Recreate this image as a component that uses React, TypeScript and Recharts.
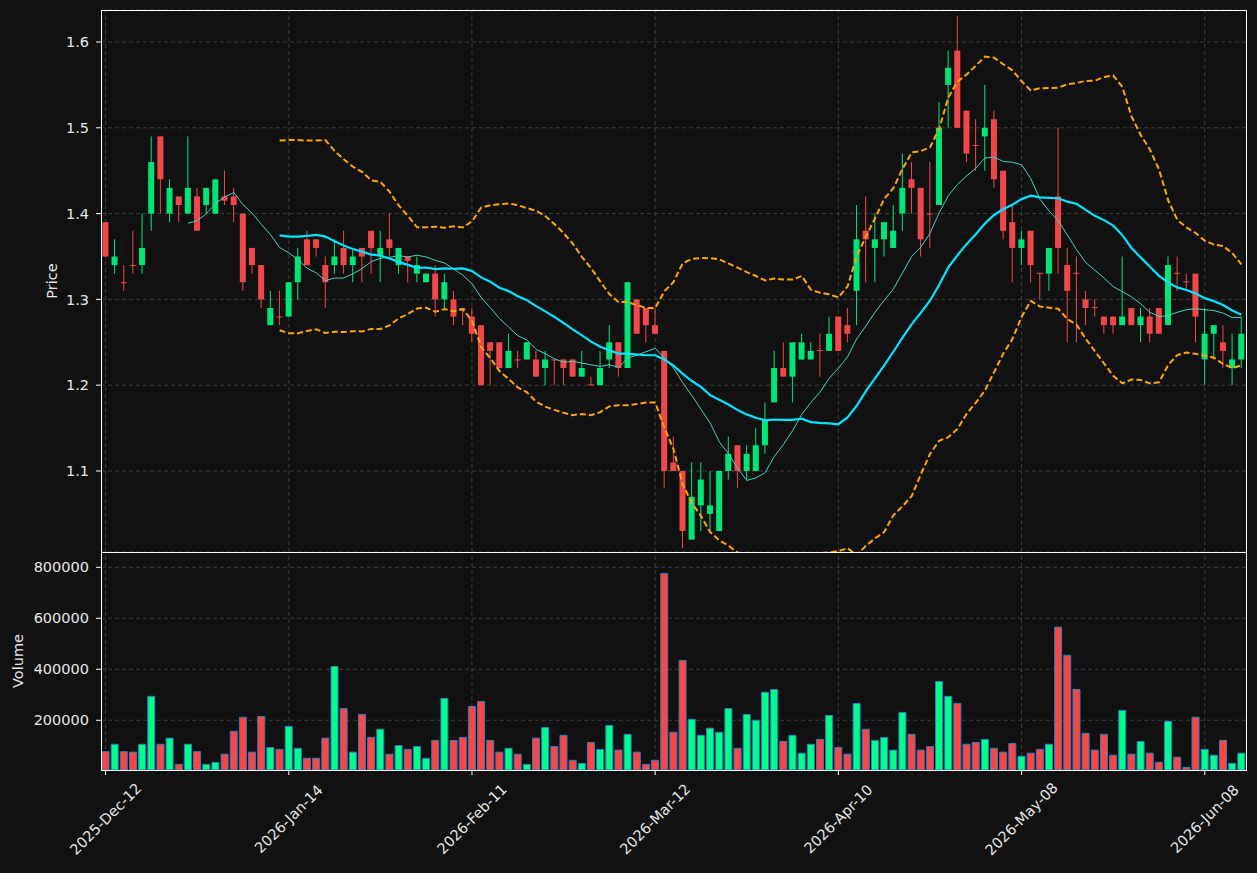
import React from 'react';
import { ComposedChart, Bar, Line, XAxis, YAxis, CartesianGrid, ReferenceLine, Cell, Label } from 'recharts';

const tickIndex = [0, 20, 40, 60, 80, 100, 120];
const tickLabels = ['2025-Dec-12', '2026-Jan-14', '2026-Feb-11', '2026-Mar-12', '2026-Apr-10', '2026-May-08', '2026-Jun-08'];
const priceTicks = [1.1, 1.2, 1.3, 1.4, 1.5, 1.6];
const volumeTicks = [200000, 400000, 600000, 800000];

const opens = [
  1.39, 1.34, 1.32, 1.34, 1.34, 1.40, 1.49, 1.40, 1.42, 1.40,
  1.42, 1.41, 1.40, 1.42, 1.42, 1.40, 1.36, 1.34, 1.27, 1.28,
  1.28, 1.32, 1.37, 1.37, 1.34, 1.34, 1.36, 1.34, 1.36, 1.38,
  1.35, 1.37, 1.34, 1.35, 1.33, 1.32, 1.33, 1.30, 1.30, 1.29,
  1.28, 1.27, 1.25, 1.25, 1.22, 1.23, 1.23, 1.23, 1.22, 1.23,
  1.23, 1.23, 1.21, 1.201, 1.20, 1.23, 1.25, 1.22, 1.30, 1.29,
  1.27, 1.24, 1.11, 1.10, 1.02, 1.06, 1.05, 1.03, 1.10, 1.13,
  1.10, 1.10, 1.13, 1.18, 1.22, 1.21, 1.23, 1.23, 1.241, 1.24,
  1.28, 1.27, 1.31, 1.38, 1.36, 1.37, 1.36, 1.40, 1.44, 1.43,
  1.40, 1.41, 1.55, 1.59, 1.52, 1.48, 1.49, 1.51, 1.45, 1.39,
  1.36, 1.38, 1.331, 1.33, 1.42, 1.34, 1.331, 1.30, 1.291, 1.28,
  1.28, 1.27, 1.29, 1.27, 1.28, 1.29, 1.27, 1.331, 1.321, 1.33,
  1.23, 1.26, 1.25, 1.22, 1.23,
];
const highs = [
  1.39, 1.37, 1.34, 1.38, 1.40, 1.49, 1.49, 1.44, 1.42, 1.49,
  1.43, 1.43, 1.44, 1.45, 1.43, 1.40, 1.36, 1.34, 1.31, 1.31,
  1.32, 1.36, 1.38, 1.37, 1.35, 1.37, 1.38, 1.36, 1.36, 1.38,
  1.38, 1.40, 1.36, 1.35, 1.35, 1.33, 1.34, 1.33, 1.31, 1.29,
  1.29, 1.27, 1.25, 1.25, 1.26, 1.24, 1.25, 1.24, 1.24, 1.23,
  1.23, 1.23, 1.24, 1.21, 1.24, 1.27, 1.25, 1.32, 1.30, 1.29,
  1.29, 1.24, 1.14, 1.10, 1.11, 1.11, 1.10, 1.10, 1.14, 1.13,
  1.13, 1.15, 1.18, 1.24, 1.25, 1.25, 1.26, 1.25, 1.26, 1.28,
  1.28, 1.29, 1.41, 1.42, 1.40, 1.39, 1.41, 1.47, 1.46, 1.43,
  1.46, 1.53, 1.59, 1.63, 1.52, 1.51, 1.55, 1.52, 1.45, 1.41,
  1.38, 1.38, 1.331, 1.36, 1.50, 1.36, 1.35, 1.31, 1.30, 1.28,
  1.28, 1.35, 1.29, 1.29, 1.29, 1.29, 1.35, 1.35, 1.33, 1.33,
  1.29, 1.27, 1.27, 1.26, 1.28,
];
const lows = [
  1.35, 1.33, 1.31, 1.33, 1.33, 1.38, 1.40, 1.39, 1.39, 1.40,
  1.38, 1.40, 1.40, 1.41, 1.39, 1.31, 1.33, 1.29, 1.27, 1.27,
  1.28, 1.30, 1.34, 1.35, 1.29, 1.33, 1.33, 1.32, 1.32, 1.33,
  1.32, 1.35, 1.33, 1.32, 1.32, 1.32, 1.28, 1.29, 1.27, 1.27,
  1.25, 1.20, 1.20, 1.22, 1.22, 1.22, 1.23, 1.21, 1.20, 1.20,
  1.20, 1.21, 1.21, 1.20, 1.20, 1.22, 1.21, 1.22, 1.26, 1.25,
  1.26, 1.08, 1.10, 1.01, 1.02, 1.03, 1.03, 1.03, 1.09, 1.08,
  1.09, 1.10, 1.12, 1.18, 1.21, 1.18, 1.23, 1.23, 1.21, 1.24,
  1.24, 1.25, 1.27, 1.32, 1.32, 1.35, 1.36, 1.38, 1.40, 1.35,
  1.36, 1.41, 1.50, 1.50, 1.46, 1.45, 1.45, 1.43, 1.37, 1.32,
  1.34, 1.32, 1.30, 1.31, 1.33, 1.25, 1.25, 1.27, 1.28, 1.26,
  1.26, 1.27, 1.27, 1.25, 1.25, 1.26, 1.27, 1.31, 1.31, 1.25,
  1.20, 1.23, 1.22, 1.20, 1.22,
];
const closes = [
  1.35, 1.35, 1.319, 1.339, 1.36, 1.46, 1.44, 1.43, 1.41, 1.43,
  1.38, 1.43, 1.44, 1.415, 1.41, 1.32, 1.34, 1.30, 1.29, 1.279,
  1.32, 1.35, 1.34, 1.36, 1.32, 1.35, 1.34, 1.35, 1.35, 1.36,
  1.36, 1.36, 1.36, 1.345, 1.34, 1.33, 1.30, 1.32, 1.28, 1.288,
  1.26, 1.20, 1.24, 1.22, 1.24, 1.229, 1.25, 1.21, 1.23, 1.229,
  1.22, 1.21, 1.22, 1.20, 1.22, 1.25, 1.22, 1.32, 1.26, 1.27,
  1.26, 1.10, 1.10, 1.03, 1.07, 1.09, 1.06, 1.10, 1.12, 1.10,
  1.12, 1.13, 1.16, 1.22, 1.21, 1.25, 1.25, 1.24, 1.24, 1.26,
  1.24, 1.26, 1.37, 1.37, 1.37, 1.39, 1.38, 1.43, 1.43, 1.37,
  1.399, 1.50, 1.57, 1.50, 1.47, 1.479, 1.50, 1.44, 1.38, 1.36,
  1.37, 1.34, 1.33, 1.36, 1.36, 1.31, 1.33, 1.29, 1.29, 1.27,
  1.27, 1.28, 1.27, 1.28, 1.26, 1.26, 1.34, 1.33, 1.32, 1.28,
  1.26, 1.27, 1.24, 1.23, 1.26,
];
const volumes = [
  77000, 106000, 77000, 75000, 106000, 294000, 106000, 130000, 27000, 106000,
  77000, 27000, 35000, 67000, 157000, 212000, 75000, 215000, 93000, 86000,
  176000, 90000, 51000, 51000, 130000, 411000, 246000, 75000, 223000, 133000,
  165000, 67000, 101000, 86000, 97000, 51000, 121000, 286000, 121000, 133000,
  254000, 274000, 121000, 75000, 90000, 67000, 27000, 130000, 172000, 97000,
  141000, 43000, 31000, 113000, 86000, 180000, 83000, 145000, 75000, 27000,
  43000, 776000, 153000, 435000, 204000, 141000, 169000, 153000, 246000, 90000,
  223000, 200000, 310000, 321000, 117000, 141000, 71000, 106000, 125000, 219000,
  93000, 67000, 266000, 165000, 121000, 133000, 83000, 231000, 145000, 83000,
  97000, 352000, 294000, 266000, 106000, 113000, 125000, 90000, 75000, 109000,
  59000, 71000, 86000, 106000, 565000, 455000, 321000, 149000, 83000, 145000,
  63000, 239000, 67000, 117000, 71000, 35000, 196000, 55000, 15000, 212000,
  86000, 63000, 121000, 31000, 71000,
];

const BG = '#111111';
const UP = '#00e676';
const DOWN = '#f04848';
const VOL_UP = '#00ff88';
const VOL_DOWN = '#ff4444';
const GRID = '#3d3d3d';
const TEXT = '#e6e6e6';
const FONT = '"DejaVu Sans", sans-serif';
const PRICE_DOMAIN: [number, number] = [1.0056, 1.6373];
const VOL_DOMAIN: [number, number] = [5000, 860000];

function sma(values: number[], n: number) {
  return values.map((_, i) => {
    if (i < n - 1) return null;
    let s = 0;
    for (let k = i - n + 1; k <= i; k++) s += values[k];
    return s / n;
  });
}
function band(values: number[], n: number, mult: number, sign: number) {
  const m = sma(values, n);
  return values.map((_, i) => {
    if (m[i] == null) return null;
    let s = 0;
    for (let k = i - n + 1; k <= i; k++) s += (values[k] - (m[i] as number)) ** 2;
    return (m[i] as number) + sign * mult * Math.sqrt(s / n);
  });
}

const ma10 = sma(closes, 10);
const ma20 = sma(closes, 20);
const bbUp = band(closes, 20, 2, 1);
const bbLo = band(closes, 20, 2, -1);

const data = closes.map((c, i) => ({
  i,
  range: [lows[i], highs[i]],
  open: opens[i],
  high: highs[i],
  low: lows[i],
  close: c,
  volume: volumes[i],
  ma10: ma10[i],
  ma20: ma20[i],
  bbUp: bbUp[i],
  bbLo: bbLo[i],
}));

const Candle = (props: any) => {
  const { x, y, width, height, payload } = props;
  if (!payload) return null;
  const { open, close, high, low } = payload;
  const color = close >= open ? UP : DOWN;
  const top = Math.min(y, y + height);
  const h = Math.abs(height);
  const toY = (p: number) => top + ((high - p) / (high - low)) * h;
  const cx = x + width / 2;
  const bTop = toY(Math.max(open, close));
  const bBot = toY(Math.min(open, close));
  const bw = 6;
  return (
    <g>
      <line x1={cx} x2={cx} y1={top} y2={top + h} stroke={color} strokeWidth={1} />
      <rect x={cx - bw / 2} y={bTop} width={bw} height={Math.max(1, bBot - bTop)} fill={color} />
    </g>
  );
};

const DateTick = (props: any) => {
  const { x, y, payload } = props;
  const idx = tickIndex.indexOf(Number(payload.value));
  if (idx < 0) return null;
  const cy = y + 42;
  return (
    <text
      x={x}
      y={cy}
      textAnchor="middle"
      dominantBaseline="central"
      fill={TEXT}
      fontSize={14.5}
      fontFamily={FONT}
      transform={`rotate(-45, ${x}, ${cy})`}
    >
      {tickLabels[idx]}
    </text>
  );
};

const axisLabel = (text: string, cxOffset: number) => (props: any) => {
  const vb = props.viewBox;
  const cx = vb.x + cxOffset;
  const cy = vb.y + vb.height / 2;
  return (
    <text
      x={cx}
      y={cy}
      textAnchor="middle"
      dominantBaseline="central"
      fill={TEXT}
      fontSize={14.5}
      fontFamily={FONT}
      transform={`rotate(-90, ${cx}, ${cy})`}
    >
      {text}
    </text>
  );
};

const tickStyle = { fill: TEXT, fontSize: 14.5, fontFamily: FONT };
const layer: React.CSSProperties = { position: 'absolute', left: 0 };

export default function App() {
  return (
    <div style={{ position: 'absolute', left: 0, top: 0, width: 1257, height: 873, background: BG, overflow: 'hidden' }}>
      {/* price panel: background layer (grid, axes) */}
      <div style={{ ...layer, top: 0 }}>
        <ComposedChart width={1257} height={552} data={data} margin={{ top: 10, right: 11, bottom: 0, left: 0 }}>
          <CartesianGrid stroke={GRID} strokeDasharray="4 3" vertical={false} />
          {tickIndex.map((t) => (
            <ReferenceLine key={t} x={t} stroke={GRID} strokeDasharray="4 3" />
          ))}
          <XAxis dataKey="i" type="category" scale="band" hide />
          <YAxis
            domain={PRICE_DOMAIN}
            ticks={priceTicks}
            allowDataOverflow
            width={101}
            axisLine={false}
            tickLine={{ stroke: '#ffffff' }}
            tickSize={5}
            tickMargin={7}
            tick={tickStyle}
            tickFormatter={(v: number) => v.toFixed(1)}
          >
            <Label content={axisLabel('Price', 51.5)} />
          </YAxis>
          <Line dataKey="close" stroke="none" dot={false} isAnimationActive={false} />
        </ComposedChart>
      </div>
      {/* price panel: data layer */}
      <div style={{ ...layer, top: 0 }}>
        <ComposedChart width={1257} height={552} data={data} margin={{ top: 10, right: 11, bottom: 0, left: 0 }}>
          <XAxis dataKey="i" type="category" scale="band" hide />
          <YAxis domain={PRICE_DOMAIN} ticks={priceTicks} allowDataOverflow width={101} axisLine={false} tickLine={false} tick={false} />
          <Bar dataKey="range" shape={<Candle />} isAnimationActive={false} />
          <Line dataKey="bbUp" stroke="#ffa500" strokeWidth={2} strokeDasharray="6 3" dot={false} isAnimationActive={false} />
          <Line dataKey="bbLo" stroke="#ffa500" strokeWidth={2} strokeDasharray="6 3" dot={false} isAnimationActive={false} />
          <Line dataKey="ma10" stroke="#46cfc6" strokeWidth={1} dot={false} isAnimationActive={false} />
          <Line dataKey="ma20" stroke="#00e5ff" strokeWidth={2.2} dot={false} isAnimationActive={false} />
        </ComposedChart>
      </div>
      {/* volume panel: background layer */}
      <div style={{ ...layer, top: 552 }}>
        <ComposedChart width={1257} height={321} data={data} margin={{ top: 0, right: 11, bottom: 0, left: 0 }}>
          <CartesianGrid stroke={GRID} strokeDasharray="4 3" vertical={false} />
          {tickIndex.map((t) => (
            <ReferenceLine key={t} x={t} stroke={GRID} strokeDasharray="4 3" />
          ))}
          <XAxis
            dataKey="i"
            type="category"
            scale="band"
            interval={19}
            height={103}
            axisLine={false}
            tickLine={{ stroke: '#ffffff' }}
            tickSize={5}
            tickMargin={2}
            tick={<DateTick />}
          />
          <YAxis
            domain={VOL_DOMAIN}
            ticks={volumeTicks}
            allowDataOverflow
            width={101}
            axisLine={false}
            tickLine={{ stroke: '#ffffff' }}
            tickSize={5}
            tickMargin={7}
            tick={tickStyle}
          >
            <Label content={axisLabel('Volume', 18)} />
          </YAxis>
          <Line dataKey="volume" stroke="none" dot={false} isAnimationActive={false} />
        </ComposedChart>
      </div>
      {/* volume panel: data layer */}
      <div style={{ ...layer, top: 552 }}>
        <ComposedChart width={1257} height={321} data={data} margin={{ top: 0, right: 11, bottom: 0, left: 0 }}>
          <XAxis dataKey="i" type="category" scale="band" height={103} axisLine={false} tickLine={false} tick={false} />
          <YAxis domain={VOL_DOMAIN} ticks={volumeTicks} allowDataOverflow width={101} axisLine={false} tickLine={false} tick={false} />
          <Bar dataKey="volume" barSize={7} stroke="#2a7fc0" strokeWidth={1} isAnimationActive={false}>
            {data.map((d) => (
              <Cell key={d.i} fill={d.close >= d.open ? VOL_UP : VOL_DOWN} />
            ))}
          </Bar>
        </ComposedChart>
      </div>
      <div style={{ position: 'absolute', left: 101, top: 10, width: 1146, height: 543, border: '1px solid #ffffff', boxSizing: 'border-box', pointerEvents: 'none' }} />
      <div style={{ position: 'absolute', left: 101, top: 552, width: 1146, height: 219, border: '1px solid #ffffff', boxSizing: 'border-box', pointerEvents: 'none' }} />
    </div>
  );
}
